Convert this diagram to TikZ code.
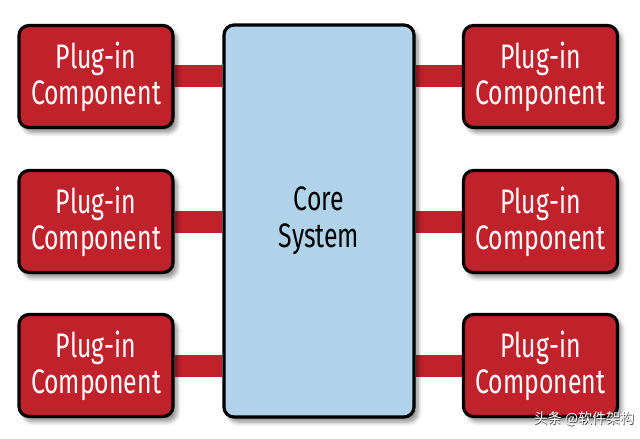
\documentclass[tikz,border=0pt]{standalone}
\usepackage{fontspec}
\setmainfont{Fira Sans}[FakeStretch=0.73]
\newfontfamily\cjk{Noto Sans CJK SC}
\usetikzlibrary{shadows.blur,backgrounds}

\definecolor{plugred}{RGB}{192,34,44}
\definecolor{coreblue}{RGB}{176,211,233}

\tikzset{
  plugbox/.style={draw=black, line width=1.6pt, rounded corners=5pt, fill=plugred,
    text=white, align=center, inner sep=0pt, minimum width=77pt, minimum height=51pt,
    font=\fontsize{17}{18}\selectfont,
    blur shadow={shadow xshift=2pt, shadow yshift=-2.5pt, shadow blur steps=6, shadow opacity=45}},
  corebox/.style={draw=black, line width=1.6pt, rounded corners=5pt, fill=coreblue,
    align=center, inner sep=0pt, minimum width=95pt, minimum height=196pt,
    font=\fontsize{17}{18.5}\selectfont,
    blur shadow={shadow xshift=2pt, shadow yshift=-2.5pt, shadow blur steps=6, shadow opacity=45}},
  plugbar/.style={plugred, line width=11pt}
}

\begin{document}
\begin{tikzpicture}[x=0.5pt, y=-0.5pt]
            \useasboundingbox (0, 0) rectangle (640, 438);
            \node[corebox] (core) at (319, 221) {Core\\System};
            \node[plugbox] (left1) at (96, 76.5) {Plug-in\\Component};
            \node[plugbox] (left2) at (96, 221.5) {Plug-in\\Component};
            \node[plugbox] (left3) at (96, 365.5) {Plug-in\\Component};
            \node[plugbox] (right1) at (540.5, 76.5) {Plug-in\\Component};
            \node[plugbox] (right2) at (540.5, 221.5) {Plug-in\\Component};
            \node[plugbox] (right3) at (540.5, 365.5) {Plug-in\\Component};
            \begin{pgfonlayer}{background}
                \draw[plugbar] (left1.east) -- (core.west |- left1.east);
                \draw[plugbar] (left2.east) -- (core.west |- left2.east);
                \draw[plugbar] (left3.east) -- (core.west |- left3.east);
                \draw[plugbar] (right1.west) -- (core.east |- right1.west);
                \draw[plugbar] (right2.west) -- (core.east |- right2.west);
                \draw[plugbar] (right3.west) -- (core.east |- right3.west);
            \end{pgfonlayer}
            \node[text=black!75, font=\cjk\fontsize{7}{8}\selectfont] at (584.6, 419.6) {头条 @软件架构};
            \node[text=white, font=\cjk\fontsize{7}{8}\selectfont] (mark) at (584, 419) {头条 @软件架构};
        \end{tikzpicture}
\end{document}
